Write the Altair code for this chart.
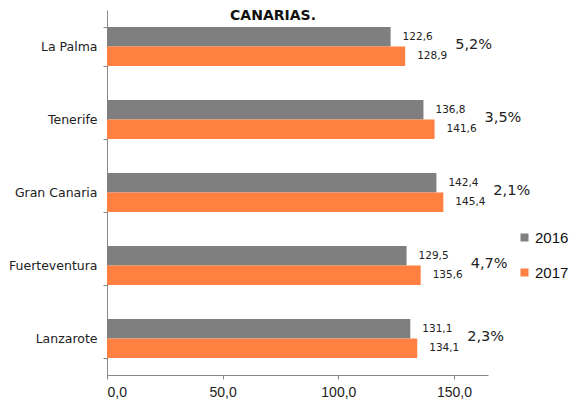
import altair as alt
import pandas as pd

islands = ["La Palma", "Tenerife", "Gran Canaria", "Fuerteventura", "Lanzarote"]
v2016 = [122.6, 136.8, 142.4, 129.5, 131.1]
v2017 = [128.9, 141.6, 145.4, 135.6, 134.1]
changes = ["5,2%", "3,5%", "2,1%", "4,7%", "2,3%"]
years = ["2016", "2017"]
x_ticks = [0, 50, 100, 150]
title_text = "CANARIAS."

rows = []
for i, isl in enumerate(islands):
    rows.append({"isla": isl, "anio": years[0], "valor": v2016[i]})
    rows.append({"isla": isl, "anio": years[1], "valor": v2017[i]})
df = pd.DataFrame(rows)
pct = pd.DataFrame({
    "isla": islands,
    "maxv": [max(a, b) for a, b in zip(v2016, v2017)],
    "var": changes,
})

yscale = alt.Scale(domain=islands, paddingInner=0.466, paddingOuter=0.233)
xscale = alt.Scale(domain=[0, 164.7], nice=False, zero=True)
yoff = alt.YOffset("anio:N", sort=years, scale=alt.Scale(domain=years, paddingInner=0, paddingOuter=0))

yaxis = alt.Axis(title=None, domainColor="#888888", tickColor="#888888", tickSize=4,
                 tickBand="extent", labelFont="DejaVu Sans", labelFontSize=12.5,
                 labelPadding=6, labelColor="#222222", grid=False)
xaxis = alt.Axis(title=None, values=x_ticks, grid=False, domainColor="#888888",
                 tickColor="#888888", tickSize=4, labelFont="Liberation Sans",
                 labelFontSize=14, labelPadding=6, labelColor="#222222",
                 labelExpr="replace(format(datum.value, '.1f'), '.', ',')")

bars = alt.Chart(df).mark_bar().encode(
    y=alt.Y("isla:N", scale=yscale, sort=islands, axis=yaxis),
    x=alt.X("valor:Q", scale=xscale, axis=xaxis),
    yOffset=yoff,
    color=alt.Color("anio:N", scale=alt.Scale(domain=years, range=["#7F7F7F", "#FF8040"]),
                    legend=alt.Legend(title=None, orient="none", legendX=410, legendY=220,
                                      symbolType="square", symbolSize=64, symbolStrokeWidth=0,
                                      labelFont="Liberation Sans", labelFontSize=15,
                                      labelColor="#111111", rowPadding=19, labelOffset=3)),
)

vlabels = alt.Chart(df).transform_calculate(
    lbl="replace(format(datum.valor, '.1f'), '.', ',')"
).mark_text(align="left", baseline="middle", dx=12, font="DejaVu Sans",
            fontSize=10.5, color="#222222").encode(
    y=alt.Y("isla:N", scale=yscale, sort=islands),
    x=alt.X("valor:Q", scale=xscale),
    yOffset=yoff,
    text="lbl:N",
)

plabels = alt.Chart(pct).mark_text(align="left", baseline="middle", dx=50, dy=-2,
                                   font="DejaVu Sans", fontSize=14.5, color="#222222").encode(
    y=alt.Y("isla:N", scale=yscale, sort=islands),
    x=alt.X("maxv:Q", scale=xscale),
    text="var:N",
)

title = alt.Chart(pd.DataFrame({"t": [title_text]})).mark_text(
    font="DejaVu Sans", fontWeight="bold", fontSize=14, color="#111111",
    align="center", baseline="alphabetic").encode(
    x=alt.value(166), y=alt.value(10), text="t:N")

chart = alt.layer(bars, vlabels, plabels, title).properties(
    width=381, height=365,
    padding={"left": 99, "top": 2, "right": 83, "bottom": 26},
    autosize=alt.AutoSizeParams(type="none"),
).configure_view(stroke=None)

chart.save("out.html", embed_options={"renderer": "svg", "actions": False})
